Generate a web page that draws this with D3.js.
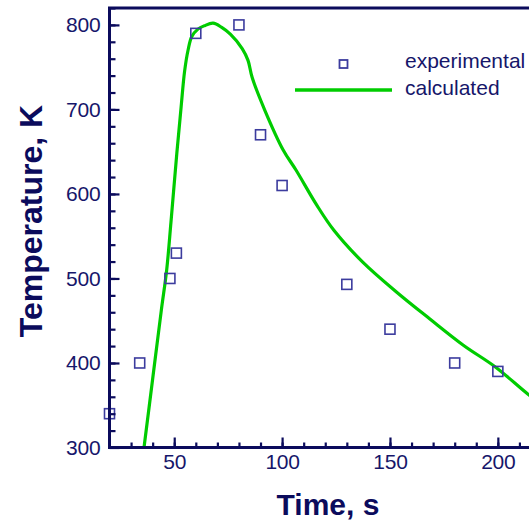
<!DOCTYPE html>
<html><head><meta charset="utf-8">
<script src="https://cdn.jsdelivr.net/npm/d3@7"></script>
<style>
html,body{margin:0;padding:0;background:#fff;}
svg{display:block;}
text{font-family:"Liberation Sans",Arial,sans-serif;}
</style></head>
<body>
<script>
// Data
const expTime = [20, 34, 48, 51, 60, 80, 90, 100, 130, 150, 180, 200];
const expTemp = [340, 400, 500, 530, 790, 800, 670, 610, 493, 440, 400, 390];
const calcTime = [36, 40, 44, 46.5, 48.5, 51.2, 53.2, 54.8, 56.4, 58.1, 61, 64, 68, 72, 76, 81.5, 84.2, 86.1, 92, 100.5, 106.5, 116, 124, 137.5, 153, 168.5, 184, 199, 214, 220];
const calcTemp = [300, 381, 462, 510, 567, 648, 703, 745, 770, 786, 795, 799, 802, 797, 789, 772, 758, 738, 699, 652, 628, 587, 557, 519, 484, 452, 421, 395, 363, 352];
const xTicks = [50, 100, 150, 200];
const yTicks = [300, 400, 500, 600, 700, 800];
const xMinor = d3.range(30, 221, 10);
const yMinor = d3.range(320, 821, 20);
const legendLabels = ["experimental", "calculated"];
const xTitle = "Time, s";
const yTitle = "Temperature, K";

const W = 529, H = 524;
const navy = "#0b0b5c", textC = "#16166a", markC = "#3c3c9e", green = "#00cc00";

const svg = d3.select("body").append("svg").attr("width", W).attr("height", H);
const x = d3.scaleLinear().domain([20, 220]).range([109.5, 541]);
const y = d3.scaleLinear().domain([300, 820]).range([447.5, 8]);

svg.append("clipPath").attr("id", "clip").append("rect")
  .attr("x", x(20)).attr("y", y(820)).attr("width", x(220) - x(20)).attr("height", y(300) - y(820));

// calculated line
const calc = calcTime.map((t, i) => [t, calcTemp[i]]);
svg.append("path").datum(calc)
  .attr("clip-path", "url(#clip)")
  .attr("fill", "none").attr("stroke", green).attr("stroke-width", 3.2)
  .attr("stroke-linejoin", "round")
  .attr("d", d3.line().x(d => x(d[0])).y(d => y(d[1])).curve(d3.curveCatmullRom.alpha(0.5)));

// experimental markers
const ms = 10;
svg.append("g").selectAll("rect").data(expTime.map((t, i) => [t, expTemp[i]])).join("rect")
  .attr("x", d => x(d[0]) - ms / 2).attr("y", d => y(d[1]) - ms / 2)
  .attr("width", ms).attr("height", ms)
  .attr("fill", "none").attr("stroke", markC).attr("stroke-width", 1.6);

// ticks
const gx = svg.append("g").attr("transform", `translate(0,${y(300)})`);
gx.call(d3.axisBottom(x).tickValues(xMinor).tickSize(-5).tickFormat(""));
const gx2 = svg.append("g").attr("transform", `translate(0,${y(300)})`);
gx2.call(d3.axisBottom(x).tickValues(xTicks).tickSize(-10).tickPadding(7));
const gy = svg.append("g").attr("transform", `translate(${x(20)},0)`);
gy.call(d3.axisLeft(y).tickValues(yMinor).tickSize(-6).tickFormat(""));
const gy2 = svg.append("g").attr("transform", `translate(${x(20)},0)`);
gy2.call(d3.axisLeft(y).tickValues(yTicks).tickSize(-10).tickPadding(9));

svg.selectAll(".domain").remove();
svg.selectAll(".tick line").attr("stroke", navy).attr("stroke-width", 2.2);
svg.selectAll(".tick text").attr("fill", textC).style("font-size", "21px")
  .style("letter-spacing", "-0.2px");
gx2.selectAll(".tick text").attr("dy", "0.71em");

// frame: left, bottom, top
svg.append("path")
  .attr("d", `M${x(220)},${y(300)}H${x(20)}V${y(820)}H${x(220)}`)
  .attr("fill", "none").attr("stroke", navy).attr("stroke-width", 3);

// axis titles
svg.append("text").attr("x", 328).attr("y", 515).attr("text-anchor", "middle")
  .attr("fill", navy).style("font-size", "30px").style("font-weight", "bold").text(xTitle);
svg.append("text").attr("transform", "translate(42,221) rotate(-90)").attr("text-anchor", "middle")
  .attr("fill", navy).style("font-size", "32px").style("font-weight", "bold").text(yTitle);

// legend
const lg = svg.append("g");
lg.append("rect").attr("x", 339.5).attr("y", 60).attr("width", 8).attr("height", 8)
  .attr("fill", "none").attr("stroke", markC).attr("stroke-width", 1.8);
lg.append("line").attr("x1", 295).attr("x2", 392).attr("y1", 90).attr("y2", 90)
  .attr("stroke", green).attr("stroke-width", 3.5);
lg.selectAll("text.lt").data(legendLabels).join("text").attr("class", "lt")
  .attr("x", 405).attr("y", (d, i) => 68 + i * 27)
  .attr("fill", textC).style("font-size", "21px").text(d => d);
</script>
</body></html>
